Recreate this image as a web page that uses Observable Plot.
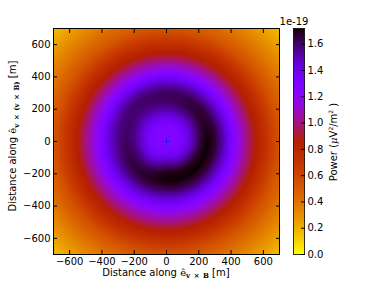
<!DOCTYPE html>
<html><head><meta charset="utf-8">
<script src="https://cdn.jsdelivr.net/npm/d3@7"></script>
<script src="https://cdn.jsdelivr.net/npm/@observablehq/plot@0.6"></script>
<style>
body{margin:0;background:#fff;}
#c{position:relative;width:374px;height:282px;}
#c svg{position:absolute;left:0;top:0;}
</style></head><body><div id="c"></div>
<script>
// Radial sample distances (m) and the direction (deg, counter-clockwise from +x) of each profile
const radii = [0,50,100,150,200,250,300,350,400,450,500,550,600,650,700,800,900,1000];
const directions = [0,45,90,135,180,225,270,315];
// Power (1e-19 µV²/m²) read along each direction
const p000 = [1.27,1.28,1.33,1.47,1.64,1.72,1.67,1.52,1.33,1.15,1.00,0.87,0.76,0.64,0.53,0.38,0.26,0.15];
const p045 = [1.27,1.28,1.31,1.41,1.56,1.66,1.65,1.52,1.34,1.16,1.00,0.87,0.76,0.64,0.53,0.38,0.26,0.15];
const p090 = [1.27,1.27,1.30,1.40,1.53,1.61,1.62,1.52,1.35,1.17,1.00,0.86,0.75,0.63,0.52,0.38,0.26,0.15];
const p135 = [1.27,1.27,1.30,1.40,1.52,1.59,1.60,1.50,1.33,1.15,1.00,0.86,0.75,0.63,0.52,0.38,0.26,0.15];
const p180 = [1.27,1.28,1.32,1.45,1.58,1.62,1.56,1.45,1.30,1.15,1.00,0.86,0.75,0.63,0.52,0.38,0.26,0.15];
const p225 = [1.27,1.29,1.34,1.48,1.62,1.67,1.60,1.46,1.30,1.14,1.00,0.87,0.76,0.65,0.54,0.39,0.26,0.15];
const p270 = [1.27,1.31,1.42,1.60,1.71,1.71,1.62,1.46,1.30,1.14,1.00,0.87,0.76,0.64,0.53,0.38,0.26,0.15];
const p315 = [1.27,1.30,1.37,1.53,1.69,1.72,1.65,1.50,1.32,1.15,1.00,0.87,0.76,0.65,0.54,0.39,0.26,0.15];
const profiles = [p000,p045,p090,p135,p180,p225,p270,p315];
const core = [{x:0, y:0}];
const axisTicks = [-600,-400,-200,0,200,400,600];
const colorTicks = [0,0.2,0.4,0.6,0.8,1.0,1.2,1.4,1.6];
const powerMax = 1.72;

function radial(p, r) {
  const i = Math.max(0, Math.min(radii.length - 2, d3.bisectRight(radii, r) - 1));
  const t = Math.min(1, (r - radii[i]) / (radii[i+1] - radii[i]));
  return p[i] + (p[i+1] - p[i]) * t;
}
function field(x, y) {
  const r = Math.hypot(x, y);
  let a = Math.atan2(y, x) * 180 / Math.PI; if (a < 0) a += 360;
  const s = a / 45, k = Math.floor(s) % 8, f = s - Math.floor(s);
  const v0 = radial(profiles[k], r), v1 = radial(profiles[(k + 1) % 8], r);
  return v0 + (v1 - v0) * f;
}
// matplotlib gnuplot_r colormap
function gnuplotR(t) {
  const x = 1 - Math.max(0, Math.min(1, t));
  const r = Math.sqrt(x), g = x * x * x, b = Math.max(0, Math.sin(2 * Math.PI * x));
  return d3.rgb(r * 255, g * 255, b * 255).formatHex();
}
const color = {type: "linear", domain: [0, powerMax], interpolate: gnuplotR};
const font = {fontFamily: "DejaVu Sans", fontSize: "10px", color: "black", background: "transparent"};
const blank = () => "";

const main = Plot.plot({
  width: 374, height: 282,
  marginLeft: 53, marginRight: 95, marginTop: 28, marginBottom: 28,
  x: {domain: [-700, 700]},
  y: {domain: [-700, 700]},
  color,
  style: font,
  marks: [
    Plot.raster({x1: -700, x2: 700, y1: -700, y2: 700, fill: field}),
    Plot.dot(core, {x: "x", y: "y", symbol: "plus", stroke: "#1a1aff", r: 2.5, strokeWidth: 1}),
    Plot.frame({stroke: "black"}),
    Plot.axisX({ticks: axisTicks, anchor: "bottom", tickSize: 0, tickPadding: 3, label: null}),
    Plot.axisX({ticks: axisTicks, anchor: "bottom", tickSize: 4, dy: -4, tickFormat: blank, label: null}),
    Plot.axisX({ticks: axisTicks, anchor: "top", tickSize: 4, dy: 4, tickFormat: blank, label: null}),
    Plot.axisY({ticks: axisTicks, anchor: "left", tickSize: 0, tickPadding: 3, label: null}),
    Plot.axisY({ticks: axisTicks, anchor: "left", tickSize: 4, dx: 4, tickFormat: blank, label: null}),
    Plot.axisY({ticks: axisTicks, anchor: "right", tickSize: 4, dx: -4, tickFormat: blank, label: null})
  ]
});

const bar = Plot.plot({
  width: 374, height: 282,
  marginLeft: 293, marginRight: 70, marginTop: 28, marginBottom: 28,
  x: {domain: [0, 1], axis: null},
  y: {domain: [0, powerMax]},
  color,
  style: font,
  marks: [
    Plot.raster({x1: 0, x2: 1, y1: 0, y2: powerMax, fill: (x, y) => y}),
    Plot.frame({stroke: "black", strokeWidth: 0.8}),
    Plot.axisY({ticks: colorTicks, anchor: "right", tickSize: 0, tickPadding: 3, tickFormat: d3.format(".1f"), label: null}),
    Plot.axisY({ticks: colorTicks, anchor: "right", tickSize: 4, dx: -4, tickFormat: blank, label: null})
  ]
});

const c = document.getElementById("c");
c.appendChild(main);
c.appendChild(bar);

const sm = d3.select(main);
const xl = sm.append("text").attr("x", 166).attr("y", 275.5).attr("text-anchor", "middle")
  .attr("font-family", "DejaVu Sans").attr("font-size", 10).attr("fill", "black");
xl.append("tspan").text("Distance along ");
xl.append("tspan").attr("font-family", "DejaVu Serif").text("ê");
xl.append("tspan").attr("font-family", "DejaVu Serif").attr("font-weight", "bold").attr("font-size", 7).attr("dy", 2.5).text("v\u2002×\u2002B");
xl.append("tspan").attr("dy", -2.5).text(" [m]");

const yl = sm.append("text").attr("transform", "translate(16,136) rotate(-90)").attr("text-anchor", "middle")
  .attr("font-family", "DejaVu Sans").attr("font-size", 10).attr("fill", "black");
yl.append("tspan").text("Distance along ");
yl.append("tspan").attr("font-family", "DejaVu Serif").text("ê");
yl.append("tspan").attr("font-family", "DejaVu Serif").attr("font-weight", "bold").attr("font-size", 7).attr("dy", 2.5).text("v\u2002×\u2002(v\u2002×\u2002B)");
yl.append("tspan").attr("dy", -2.5).text(" [m]");

const sb = d3.select(bar);
sb.append("text").attr("x", 294).attr("y", 25).attr("font-family", "DejaVu Sans").attr("font-size", 10).attr("fill", "black").text("1e-19");
const cl = sb.append("text").attr("transform", "translate(337,142) rotate(-90)").attr("text-anchor", "middle")
  .attr("font-family", "DejaVu Sans").attr("font-size", 10).attr("fill", "black");
cl.append("tspan").text("Power (");
cl.append("tspan").attr("font-family", "DejaVu Serif").attr("font-style", "italic").text("μ");
cl.append("tspan").text("V");
cl.append("tspan").attr("font-size", 6).attr("dy", -4).text("2");
cl.append("tspan").attr("dy", 4).text("/m");
cl.append("tspan").attr("font-size", 6).attr("dy", -4).text("2");
cl.append("tspan").attr("dy", 4).text(" )");
</script></body></html>
